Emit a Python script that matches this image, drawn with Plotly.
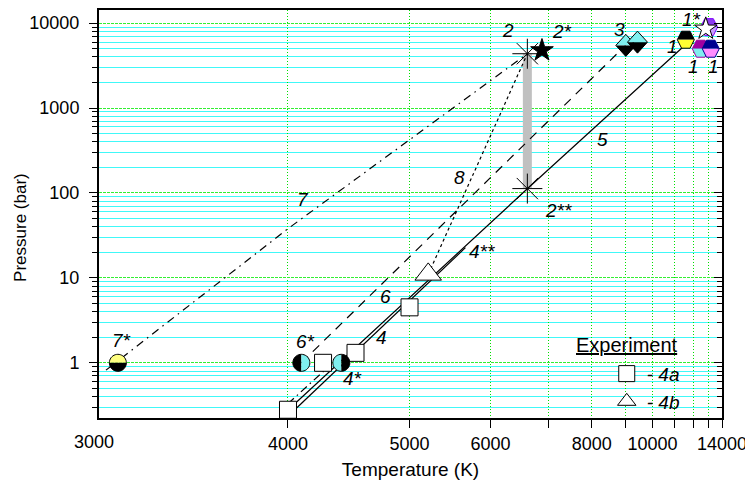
import numpy as np
import plotly.graph_objects as go

# ---------------- data (T in K, P in bar) ----------------
x_tick_T = [4000, 5000, 6000, 7000, 8000, 9000, 10000, 11000, 12000, 13000, 14000]
x_tick_text = ["4000", "5000", "6000", "", "8000", "", "10000", "", "", "", "14000"]
y_tick_P = [1, 10, 100, 1000, 10000]
y_tick_text = ["1", "10", "100", "1000", "10000"]

# experiment
T_4a = [4000, 4245, 4500, 5000]
P_4a = [0.28, 1.0, 1.31, 4.5]
T_4b = [5200]
P_4b = [11.0]

# curves
T_line5 = [4000, 6600, 11580]
P_line5 = [0.278, 112.0, 5600]
T_line4 = [4045, 5650]
P_line4 = [0.28, 22.7]
T_line6 = [4090, 9000]
P_line6 = [1.0, 5470]
T_line6b = [4000, 4250]
P_line6b = [0.33, 0.80]
T_line7 = [3078, 4000, 6600]
P_line7 = [0.82, 38, 4365]
T_line8 = [5200, 6600]
P_line8 = [11.0, 4365]

# critical point estimates
T_2 = [6600, 6600]          # points 2 and 2**
P_2 = [4365, 112.7]
T_2s = [6873]
P_2s = [4775]
T_1s = [12804]
P_1s = [8590]
T_7s = [3125]
P_7s = [1.0]
T_6s = [4090]
P_6s = [1.0]
T_4s = [4385]
P_4s = [1.0]
T_3 = [9009, 9416]
P_3 = [5470, 5976]
T_1 = [11585, 12475, 13149]
P_1 = [6380, 5000, 5000]
T_1b = [13029]
P_1b = [8980]

# text labels
lab_text = ["1*", "1", "1", "1", "3", "2", "2*", "2**", "4**", "5", "8", "7", "6", "4", "6*", "4*", "7*"]
lab_T = [11936, 10870, 11996, 13310, 8818, 6270, 7285, 7199, 5876, 8306, 5567, 4101, 4760, 4732, 4122, 4479, 3138]
lab_P = [11190, 5240, 3050, 3050, 8530, 8090, 7870, 63, 20.7, 432, 154, 82.7, 5.96, 1.96, 1.76, 0.662, 1.856]

# ---------------- helpers ----------------
def X(T):
    return [1e4 / t for t in T]

FONT = "Liberation Sans, Arial, sans-serif"
CYAN = "#7fefef"

fig = go.Figure()

def line(T, P, dash, width=1.2, color="black"):
    fig.add_trace(go.Scatter(x=X(T), y=P, mode="lines", showlegend=False, hoverinfo="skip",
                             line=dict(color=color, width=width, dash=dash)))

# grey bar between 2 and 2**
line(T_2, P_2, "solid", width=9, color="#c0c0c0")
line(T_line7, P_line7, "8px,5px,1.5px,5px")
line(T_line8, P_line8, "3px,3px")
line(T_line6, P_line6, "9px,7px")
line(T_line6b, P_line6b, "8px,4px,1.5px,4px")
line(T_line5, P_line5, "solid")
line(T_line4, P_line4, "solid")

# invisible trace that activates the right-hand (inside ticks) axis
fig.add_trace(go.Scatter(x=X(T_line5), y=P_line5, yaxis="y2", mode="lines", showlegend=False,
                         hoverinfo="skip", line=dict(width=0), opacity=0))

# experiment markers (legend)
fig.add_trace(go.Scatter(x=X(T_4a), y=P_4a, mode="markers", name="<i>- 4a</i>",
                         marker=dict(symbol="square", size=17, color="white",
                                     line=dict(color="black", width=1))))
fig.add_trace(go.Scatter(x=X(T_4b), y=P_4b, mode="markers", name="<i>- 4b</i>",
                         marker=dict(symbol="triangle-up", size=23, color="white",
                                     line=dict(color="black", width=1))))

# 2 and 2** asterisks
fig.add_trace(go.Scatter(x=X(T_2), y=P_2, mode="markers", showlegend=False, hoverinfo="skip",
                         marker=dict(symbol="asterisk-open", size=25, color="black",
                                     line=dict(color="black", width=1))))
# 2* black star
fig.add_trace(go.Scatter(x=X(T_2s), y=P_2s, mode="markers", showlegend=False, hoverinfo="skip",
                         marker=dict(symbol="star", size=17, color="black",
                                     line=dict(color="black", width=1))))
# 1* white star
fig.add_trace(go.Scatter(x=X(T_1s), y=P_1s, mode="markers", showlegend=False, hoverinfo="skip",
                         marker=dict(symbol="star", size=17, color="white",
                                     line=dict(color="black", width=1))))

# ---------------- half-filled markers as pixel-sized shapes ----------------
def outline(kind, r):
    if kind == "circle":
        a = np.linspace(0, 2 * np.pi, 41)
        return list(zip(r * np.cos(a), r * np.sin(a)))
    if kind == "hexagon":
        return [(r, 0), (r / 2, r), (-r / 2, r), (-r, 0), (-r / 2, -r), (r / 2, -r)]
    if kind == "diamond":
        return [(r, 0), (0, r * 1.1), (-r, 0), (0, -r * 1.1)]

def halves(kind, r, split):
    pts = outline(kind, r)
    if kind == "circle":
        a = np.linspace(0, np.pi, 21)
        if split == "h":
            h1 = list(zip(r * np.cos(a), r * np.sin(a)))
            h2 = list(zip(r * np.cos(a + np.pi), r * np.sin(a + np.pi)))
        else:
            h1 = list(zip(r * np.cos(a + np.pi / 2), r * np.sin(a + np.pi / 2)))
            h2 = list(zip(r * np.cos(a - np.pi / 2), r * np.sin(a - np.pi / 2)))
        return pts, h1, h2
    if kind == "hexagon":
        h1 = [(r, 0), (r / 2, r), (-r / 2, r), (-r, 0)]
        h2 = [(-r, 0), (-r / 2, -r), (r / 2, -r), (r, 0)]
        return pts, h1, h2
    if kind == "diamond":
        h1 = [(r, 0), (0, r * 1.1), (-r, 0)]
        h2 = [(-r, 0), (0, -r * 1.1), (r, 0)]
        return pts, h1, h2

def pstr(pts):
    return "M " + " L ".join(f"{x:.2f},{y:.2f}" for x, y in pts) + " Z"

shapes = []
def half_marker(T, P, kind, r, c1, c2, split, edge="black", layer="above"):
    for t, p in zip(T, P):
        pts, h1, h2 = halves(kind, r, split)
        base = dict(type="path", xref="x", yref="y", xsizemode="pixel", ysizemode="pixel",
                    xanchor=1e4 / t, yanchor=p, layer=layer)
        shapes.append(dict(base, path=pstr(h1), fillcolor=c1, line=dict(width=0)))
        shapes.append(dict(base, path=pstr(h2), fillcolor=c2, line=dict(width=0)))
        shapes.append(dict(base, path=pstr(pts), fillcolor="rgba(0,0,0,0)",
                           line=dict(color=edge, width=1)))

half_marker(T_1b, P_1b, "hexagon", 8.5, "#8c3cf0", "#c89cff", "h", edge="#7f00ff", layer="between")
half_marker(T_7s, P_7s, "circle", 8.5, "#ffff80", "black", "h")
half_marker(T_6s, P_6s, "circle", 8.5, "black", CYAN, "v")
half_marker(T_4s, P_4s, "circle", 8.5, CYAN, "black", "v")
half_marker(T_3, P_3, "diamond", 10, CYAN, "black", "h")
half_marker(T_1[:1], P_1[:1], "hexagon", 8.5, "black", "#ffff33", "h")
half_marker(T_1[1:2], P_1[1:2], "hexagon", 8.5, "#a000a0", CYAN, "h", edge="#a000a0")
half_marker(T_1[2:3], P_1[2:3], "hexagon", 8.5, "#000090", "#ff8cff", "h", edge="#000090")

# ---------------- annotations ----------------
ann = []
for s, t, p in zip(lab_text, lab_T, lab_P):
    ann.append(dict(text=f"<i>{s}</i>", x=1e4 / t, y=np.log10(p), xref="x", yref="y",
                    showarrow=False, xanchor="center", yanchor="middle",
                    font=dict(family=FONT, size=19, color="black")))
ann.append(dict(text="3000", x=-0.008, y=-0.06, xref="paper", yref="paper", showarrow=False,
                xanchor="center", yanchor="middle", font=dict(family=FONT, size=18, color="black")))
ann.append(dict(text="Pressure (bar)", x=-0.127, y=0.468, xref="paper", yref="paper",
                showarrow=False, textangle=-90, xanchor="center", yanchor="middle",
                font=dict(family=FONT, size=17, color="black")))
ann.append(dict(text="<u>Experiment</u>", x=0.848, y=0.178, xref="paper", yref="paper",
                showarrow=False, xanchor="center", yanchor="middle",
                font=dict(family=FONT, size=20, color="black")))

minor_P = [m * 10.0 ** d for d in range(-1, 4) for m in range(2, 10)]
minor_P = [v for v in minor_P if 0.225 < v < 14000]

yr = [-0.65, 4.155]
fig.update_layout(
    template="none",
    width=745, height=481,
    margin=dict(l=91, r=31, t=2, b=71, autoexpand=False),
    plot_bgcolor="white", paper_bgcolor="white",
    font=dict(family=FONT, size=18, color="black"),
    shapes=shapes, annotations=ann,
    showlegend=True,
    legend=dict(x=0.815, y=0.155, xanchor="left", yanchor="top", bgcolor="rgba(0,0,0,0)",
                font=dict(family=FONT, size=19, color="black"), tracegroupgap=0,
                itemsizing="trace", borderwidth=0),
    xaxis=dict(range=[1e4 / 3051, 1e4 / 14000], tickmode="array", tickvals=X(x_tick_T),
               ticktext=x_tick_text, ticks="outside", ticklen=8, tickcolor="black", tickwidth=1,
               showgrid=True, gridcolor="#00e000", griddash="1px,2px", gridwidth=1,
               showline=True, linewidth=2, linecolor="black", mirror=True, zeroline=False,
               automargin=False,
               title=dict(text="Temperature (K)", standoff=10, font=dict(size=19))),
    yaxis=dict(type="log", range=yr, tickmode="array", tickvals=y_tick_P, ticktext=y_tick_text,
               ticks="outside", ticklen=8, tickcolor="black", tickwidth=1, ticklabelstandoff=6,
               showgrid=True, gridcolor="#33ee33", griddash="3px,1px", gridwidth=1,
               minor=dict(tickmode="array", tickvals=minor_P, ticks="outside", ticklen=5,
                          tickcolor="black", tickwidth=1, showgrid=True, gridcolor="#40f8f8",
                          griddash="solid", gridwidth=1),
               showline=True, linewidth=2, linecolor="black", mirror=True, zeroline=False,
               automargin=False),
    yaxis2=dict(type="log", range=yr, overlaying="y", side="right", tickmode="array",
                tickvals=y_tick_P, ticks="inside", ticklen=8, tickcolor="black", tickwidth=1,
                showticklabels=False, showgrid=False, zeroline=False, showline=False,
                automargin=False,
                minor=dict(tickmode="array", tickvals=minor_P, ticks="inside", ticklen=5,
                           tickcolor="black", tickwidth=1, showgrid=False)),
)

fig.write_html("out.html")
